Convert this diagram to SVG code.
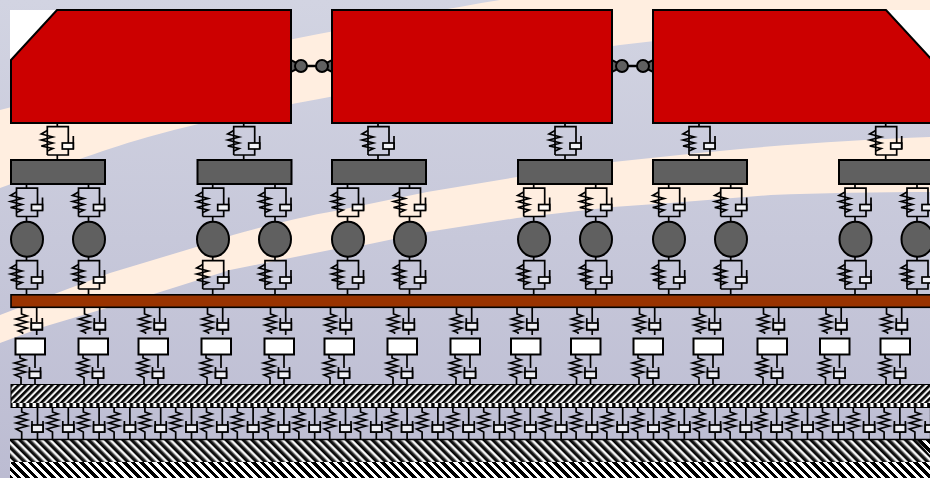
<svg xmlns="http://www.w3.org/2000/svg" xmlns:xlink="http://www.w3.org/1999/xlink" width="930" height="478" viewBox="0 0 930 478">
<style>
.car{fill:#cc0000;stroke:#000;stroke-width:2}
.dark{fill:#606060;stroke:#000;stroke-width:2}
.sl{fill:#fff;stroke:#000;stroke-width:2}
.ln{fill:none;stroke:#000;stroke-width:1.700}
.pis{fill:#fff;fill-opacity:.75;stroke:#000;stroke-width:1.700}
.peach{fill:#ffeee0}
</style>
<defs>
<linearGradient id="bg" x1="0" y1="0" x2="0" y2="1"><stop offset="0" stop-color="#d2d4e2"/><stop offset="1" stop-color="#bcbcd2"/></linearGradient>
<linearGradient id="h1" gradientUnits="userSpaceOnUse" x1="11" y1="385" x2="14.350" y2="388.350" spreadMethod="repeat"><stop offset="0" stop-color="#000"/><stop offset=".3" stop-color="#111"/><stop offset=".65" stop-color="#fff"/><stop offset=".8" stop-color="#eee"/><stop offset="1" stop-color="#000"/></linearGradient>
<linearGradient id="h2" gradientUnits="userSpaceOnUse" x1="10" y1="440" x2="14.300" y2="435.700" spreadMethod="repeat"><stop offset="0" stop-color="#000"/><stop offset=".3" stop-color="#222"/><stop offset=".65" stop-color="#fff"/><stop offset=".8" stop-color="#eee"/><stop offset="1" stop-color="#000"/></linearGradient>
<linearGradient id="c2" gradientUnits="userSpaceOnUse" x1="10" y1="462" x2="14.300" y2="457.700" spreadMethod="repeat"><stop offset="0" stop-color="#000"/><stop offset=".5" stop-color="#000"/><stop offset=".5" stop-color="#fff"/><stop offset="1" stop-color="#fff"/></linearGradient>
<pattern id="c1" width="6.700" height="6" patternUnits="userSpaceOnUse" patternTransform="translate(11 403)"><rect width="6.700" height="6" fill="#000"/><rect x="1.500" width="3.400" height="4" fill="#fff"/></pattern>
<g id="f"><path class="ln" d="M0,0V3.700M-10,32V3.700H11V20M-10,32H11V26M0,32V37M16,26V13"/><path class="ln" d="M-10,7.500L-16,11L-4.500,14L-16,17L-4.500,20L-16,23L-4.500,25.500L-10,28"/><rect class="pis" x="5" y="20" width="11" height="6"/></g>
<g id="u"><path class="ln" d="M0,0V7L5.500,9L-5.500,12L5.500,15L-5.500,18L5.500,21L-3,24L1,25.500V27M15.200,0V15M15.200,23V28M9.800,11V23H20.800V11"/><rect class="pis" x="9.800" y="16" width="11" height="6.500"/></g>
<g id="l"><path class="ln" d="M0,0V3L5.500,5L-5.500,8L5.500,11L-5.500,14L5.500,17L-5,20L1,22.500V29M15,0V13M15,23V29M9.500,12V23H20.500V12"/><rect class="pis" x="9.500" y="16.500" width="11" height="6.500"/></g>
<g id="b"><path class="ln" d="M0,0V4L5.500,6L-5.500,9L5.500,12L-5.500,15L5.500,18L-5.500,21L0,24V31M15.800,0V17M15.800,24V31M10.300,13V24H21.300V13"/><rect class="pis" x="10.300" y="17" width="11" height="7"/></g>
<g id="cp"><path class="dark" stroke-width="1.500" d="M0,60V72L5,69.500V62.500Z"/><path class="dark" stroke-width="1.500" d="M41,60V72L36,69.500V62.500Z"/><path d="M10,66H31" stroke="#000" stroke-width="2.500"/><circle class="dark" cx="10" cy="66" r="6"/><circle class="dark" cx="31" cy="66" r="6"/></g>
</defs>
<rect width="930" height="478" fill="url(#bg)"/>
<path class="peach" d="M0,110C120,80 230,50 340,30C400,18 450,8 500,0H930V15C830,22 730,32 620,45C520,58 430,78 340,95C270,108 210,120 148,137C120,145 100,152 77,160L0,188Z"/>
<path class="peach" d="M0,315L57,293L110,273L193,248L233,235C270,225 300,217 340,210L427,192L517,177L613,162L670,156C760,146 850,140 930,137V192C880,192 820,193 771,195L670,203L613,207L517,218L427,232L365,245L340,248L230,270L157,293L43,327L0,343Z"/>

<g id="connectors">
<use href="#cp" x="291"/><use href="#cp" x="612"/>
<use href="#f" x="57.300" y="123"/><use href="#f" x="243.700" y="123"/><use href="#f" x="378" y="123"/><use href="#f" x="565" y="123"/><use href="#f" x="699" y="123"/><use href="#f" x="885.700" y="123"/>
<use href="#f" x="26.500" y="184.500"/><use href="#f" x="88.500" y="184.500"/><use href="#f" x="212.700" y="184.500"/><use href="#f" x="275" y="184.500"/><use href="#f" x="347.500" y="184.500"/><use href="#f" x="409.500" y="184.500"/><use href="#f" x="533.700" y="184.500"/><use href="#f" x="595.700" y="184.500"/><use href="#f" x="668.700" y="184.500"/><use href="#f" x="730.700" y="184.500"/><use href="#f" x="855" y="184.500"/><use href="#f" x="917" y="184.500"/>
<use href="#f" x="26.500" y="257"/><use href="#f" x="88.500" y="257"/><use href="#f" x="212.700" y="257"/><use href="#f" x="275" y="257"/><use href="#f" x="347.500" y="257"/><use href="#f" x="409.500" y="257"/><use href="#f" x="533.700" y="257"/><use href="#f" x="595.700" y="257"/><use href="#f" x="668.700" y="257"/><use href="#f" x="730.700" y="257"/><use href="#f" x="855" y="257"/><use href="#f" x="917" y="257"/>
<use href="#u" x="21.500" y="307"/><use href="#u" x="84.500" y="307"/><use href="#u" x="144.500" y="307"/><use href="#u" x="207.500" y="307"/><use href="#u" x="270.500" y="307"/><use href="#u" x="330.500" y="307"/><use href="#u" x="393.500" y="307"/><use href="#u" x="456.500" y="307"/><use href="#u" x="517" y="307"/><use href="#u" x="577" y="307"/><use href="#u" x="639.500" y="307"/><use href="#u" x="699.500" y="307"/><use href="#u" x="763.500" y="307"/><use href="#u" x="826" y="307"/><use href="#u" x="886.500" y="307"/>
<use href="#l" x="20" y="355"/><use href="#l" x="83" y="355"/><use href="#l" x="143" y="355"/><use href="#l" x="206" y="355"/><use href="#l" x="269" y="355"/><use href="#l" x="329" y="355"/><use href="#l" x="392" y="355"/><use href="#l" x="455" y="355"/><use href="#l" x="515.500" y="355"/><use href="#l" x="575.500" y="355"/><use href="#l" x="638" y="355"/><use href="#l" x="698" y="355"/><use href="#l" x="762" y="355"/><use href="#l" x="824.500" y="355"/><use href="#l" x="885" y="355"/>
<use href="#b" x="21.700" y="408"/><use href="#b" x="52.500" y="408"/><use href="#b" x="83.300" y="408"/><use href="#b" x="114.100" y="408"/><use href="#b" x="144.900" y="408"/><use href="#b" x="175.700" y="408"/><use href="#b" x="206.500" y="408"/><use href="#b" x="237.300" y="408"/><use href="#b" x="268.100" y="408"/><use href="#b" x="298.900" y="408"/><use href="#b" x="329.700" y="408"/><use href="#b" x="360.500" y="408"/><use href="#b" x="391.300" y="408"/><use href="#b" x="422.100" y="408"/><use href="#b" x="452.900" y="408"/><use href="#b" x="483.700" y="408"/><use href="#b" x="514.500" y="408"/><use href="#b" x="545.300" y="408"/><use href="#b" x="576.100" y="408"/><use href="#b" x="606.900" y="408"/><use href="#b" x="637.700" y="408"/><use href="#b" x="668.500" y="408"/><use href="#b" x="699.300" y="408"/><use href="#b" x="730.100" y="408"/><use href="#b" x="760.900" y="408"/><use href="#b" x="791.700" y="408"/><use href="#b" x="822.500" y="408"/><use href="#b" x="853.300" y="408"/><use href="#b" x="884.100" y="408"/><use href="#b" x="914.900" y="408"/>
</g>

<g id="car1"><path d="M10,10H57L11,60H10Z" fill="#fff"/><path class="car" d="M11,60L57,10H291V123H11Z"/></g>
<g id="car2"><rect class="car" x="332" y="10" width="280" height="113"/></g>
<g id="car3"><path d="M886,10H930V58Z" fill="#fff"/><path class="car" d="M653,10H886L934,62V123H653Z"/></g>

<g id="bogie1"><rect class="dark" x="11" y="160" width="94" height="24"/></g>
<g id="bogie2"><rect class="dark" x="197.500" y="160" width="94" height="24"/></g>
<g id="bogie3"><rect class="dark" x="332" y="160" width="94" height="24"/></g>
<g id="bogie4"><rect class="dark" x="518" y="160" width="94" height="24"/></g>
<g id="bogie5"><rect class="dark" x="653" y="160" width="94" height="24"/></g>
<g id="bogie6"><rect class="dark" x="839" y="160" width="94" height="24"/></g>

<g id="wheel1"><ellipse class="dark" cx="27" cy="239.300" rx="16" ry="17.500"/></g>
<g id="wheel2"><ellipse class="dark" cx="89" cy="239.300" rx="16" ry="17.500"/></g>
<g id="wheel3"><ellipse class="dark" cx="213" cy="239.300" rx="16" ry="17.500"/></g>
<g id="wheel4"><ellipse class="dark" cx="275" cy="239.300" rx="16" ry="17.500"/></g>
<g id="wheel5"><ellipse class="dark" cx="348" cy="239.300" rx="16" ry="17.500"/></g>
<g id="wheel6"><ellipse class="dark" cx="410" cy="239.300" rx="16" ry="17.500"/></g>
<g id="wheel7"><ellipse class="dark" cx="534" cy="239.300" rx="16" ry="17.500"/></g>
<g id="wheel8"><ellipse class="dark" cx="596" cy="239.300" rx="16" ry="17.500"/></g>
<g id="wheel9"><ellipse class="dark" cx="669" cy="239.300" rx="16" ry="17.500"/></g>
<g id="wheel10"><ellipse class="dark" cx="731" cy="239.300" rx="16" ry="17.500"/></g>
<g id="wheel11"><ellipse class="dark" cx="855.500" cy="239.300" rx="16" ry="17.500"/></g>
<g id="wheel12"><ellipse class="dark" cx="917.500" cy="239.300" rx="16" ry="17.500"/></g>

<g id="rail"><rect x="11" y="294.800" width="925" height="12.500" fill="#993300" stroke="#000" stroke-width="1.600"/></g>

<g id="sleeper1"><rect class="sl" x="15.500" y="338.500" width="29.500" height="16"/></g>
<g id="sleeper2"><rect class="sl" x="78.500" y="338.500" width="29.500" height="16"/></g>
<g id="sleeper3"><rect class="sl" x="138.500" y="338.500" width="29.500" height="16"/></g>
<g id="sleeper4"><rect class="sl" x="201.500" y="338.500" width="29.500" height="16"/></g>
<g id="sleeper5"><rect class="sl" x="264.500" y="338.500" width="29.500" height="16"/></g>
<g id="sleeper6"><rect class="sl" x="324.500" y="338.500" width="29.500" height="16"/></g>
<g id="sleeper7"><rect class="sl" x="387.500" y="338.500" width="29.500" height="16"/></g>
<g id="sleeper8"><rect class="sl" x="450.500" y="338.500" width="29.500" height="16"/></g>
<g id="sleeper9"><rect class="sl" x="511" y="338.500" width="29.500" height="16"/></g>
<g id="sleeper10"><rect class="sl" x="571" y="338.500" width="29.500" height="16"/></g>
<g id="sleeper11"><rect class="sl" x="633.500" y="338.500" width="29.500" height="16"/></g>
<g id="sleeper12"><rect class="sl" x="693.500" y="338.500" width="29.500" height="16"/></g>
<g id="sleeper13"><rect class="sl" x="757.500" y="338.500" width="29.500" height="16"/></g>
<g id="sleeper14"><rect class="sl" x="820" y="338.500" width="29.500" height="16"/></g>
<g id="sleeper15"><rect class="sl" x="880.500" y="338.500" width="29.500" height="16"/></g>

<g id="ballast"><rect x="11" y="385" width="925" height="18" fill="url(#h1)"/><rect x="11" y="403" width="925" height="5" fill="url(#c1)"/><rect x="11" y="384.500" width="925" height="23" fill="none" stroke="#000" stroke-width="1"/></g>
<g id="subgrade"><rect x="10" y="440" width="925" height="22" fill="url(#h2)"/><rect x="10" y="462" width="925" height="16" fill="url(#c2)"/><path d="M917,440H930V455Z" fill="url(#c2)"/><path d="M10,439.500H930" stroke="#000" stroke-width="1.500"/></g>
</svg>
